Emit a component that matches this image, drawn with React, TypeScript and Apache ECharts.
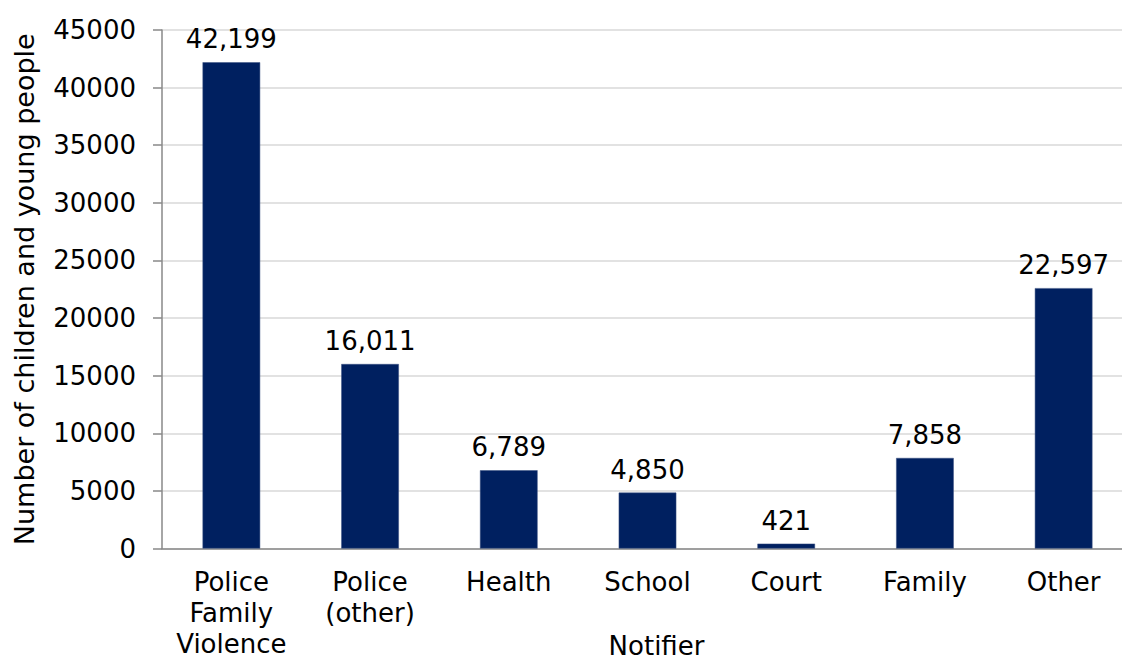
import React, { useEffect, useRef } from "react";
import * as echarts from "echarts";

const categories = ["Police\nFamily\nViolence", "Police\n(other)", "Health", "School", "Court", "Family", "Other"];
const values = [42199, 16011, 6789, 4850, 421, 7858, 22597];
const yMax = 45000;
const yInterval = 5000;

const FONT = "DejaVu Sans";

export default function App() {
  const ref = useRef<HTMLDivElement>(null);
  useEffect(() => {
    if (!ref.current) return;
    const chart = echarts.init(ref.current, null, { renderer: "svg" });
    chart.setOption({
      animation: false,
      backgroundColor: "#ffffff",
      textStyle: { fontFamily: FONT },
      grid: { left: 162, top: 30, width: 971, height: 518.5, containLabel: false, outerBoundsMode: "none" },
      xAxis: {
        type: "category",
        data: categories,
        name: "Notifier",
        nameLocation: "middle",
        nameGap: 87,
        nameMoveOverlap: false,
        nameTextStyle: { fontFamily: FONT, fontSize: 26, color: "#000", lineHeight: 20, padding: [0, 0, 0, 18] },
        axisLine: { lineStyle: { color: "#898989", width: 1.5 } },
        axisTick: { show: false },
        axisLabel: {
          fontFamily: FONT,
          fontSize: 26,
          color: "#000",
          lineHeight: 31,
          margin: 18,
          interval: 0,
        },
      },
      yAxis: {
        type: "value",
        min: 0,
        max: yMax,
        interval: yInterval,
        name: "Number of children and young people",
        nameLocation: "middle",
        nameGap: 124,
        nameRotate: 90,
        nameMoveOverlap: false,
        nameTextStyle: { fontFamily: FONT, fontSize: 27, color: "#000" },
        axisLine: { show: true, lineStyle: { color: "#898989", width: 1.5 } },
        axisTick: { show: true, inside: false, length: 9, lineStyle: { color: "#898989", width: 1.5 } },
        axisLabel: { fontFamily: FONT, fontSize: 26, color: "#000", margin: 26, formatter: (v: number) => String(v) },
        splitLine: { show: true, lineStyle: { color: "#d9d9d9", width: 1.5 } },
      },
      series: [
        {
          type: "bar",
          data: values,
          barWidth: 57.6,
          itemStyle: { color: "#002060", borderColor: "#3a5080", borderWidth: 0.5 },
          label: {
            show: true,
            position: "top",
            distance: 10,
            fontFamily: FONT,
            fontSize: 26,
            color: "#000",
            formatter: (p: any) => Number(p.value).toLocaleString("en-US"),
          },
        },
      ],
    });
    return () => chart.dispose();
  }, []);
  return <div ref={ref} style={{ position: "fixed", left: 0, top: 0, width: 1122, height: 660 }} />;
}
